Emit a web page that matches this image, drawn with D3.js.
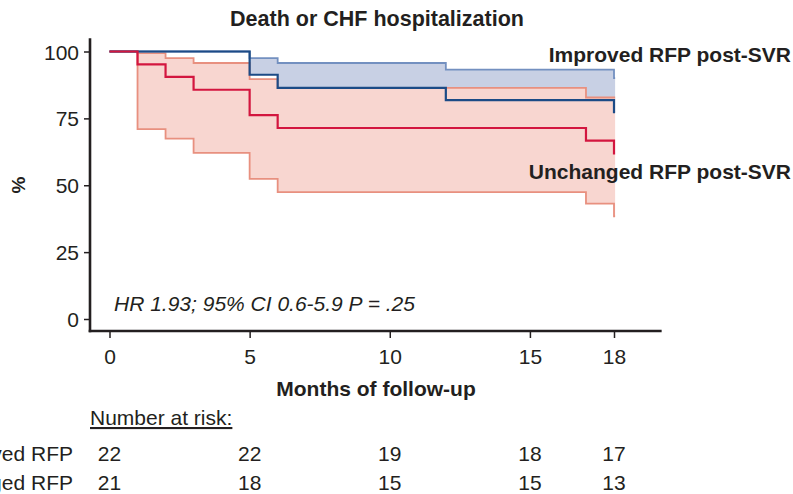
<!DOCTYPE html>
<html><head><meta charset="utf-8">
<script src="https://cdn.jsdelivr.net/npm/d3@7"></script>
<style>
html,body{margin:0;padding:0;background:#fff;}
svg{display:block;}
text{font-family:"Liberation Sans",Arial,Helvetica,sans-serif;}
</style></head>
<body><svg id="c" width="793" height="494"></svg>
<script>
// ---- data ----
const improvedTimes = [0, 5, 6, 12, 18];
const improvedSurv  = [100, 91.3, 86.4, 81.8, 77.3];
const improvedUpper = [100, 97.5, 95.7, 93.2, 90.1];

const unchangedTimes = [0, 1, 2, 3, 5, 6, 17, 18];
const unchangedSurv  = [100, 95.2, 90.5, 85.7, 76.2, 71.4, 66.7, 61.9];
const unchangedUpper = [100, 99.4, 97.5, 95.7, 89.7, 86.4, 82.8, 82.8];
const unchangedLower = [100, 71.0, 67.4, 62.1, 52.4, 47.4, 43.1, 38.4];

const xTicks = [0, 5, 10, 15, 18];
const yTicks = [0, 25, 50, 75, 100];
const riskTimes = [0, 5, 10, 15, 18];
const riskImproved = [22, 22, 19, 18, 17];
const riskUnchanged = [21, 18, 15, 15, 13];
const riskLabels = ["Improved RFP", "Unchanged RFP"];

const title = "Death or CHF hospitalization";
const xTitle = "Months of follow-up";
const yTitle = "%";
const seriesLabels = ["Improved RFP post-SVR", "Unchanged RFP post-SVR"];
const statText = "HR 1.93; 95% CI 0.6-5.9 P = .25";

// ---- layout ----
const svg = d3.select("#c");
const x = d3.scaleLinear().domain([0, 18]).range([109.5, 614]);
const y = d3.scaleLinear().domain([0, 100]).range([319, 51.5]);
const endExt = 0.04;
const fs = 21;

function rows(times, ...cols) {
  const r = times.map((t, i) => ({t, v: cols.map(c => c[i])}));
  const last = r[r.length - 1];
  r.push({t: last.t + endExt, v: last.v.slice()});
  return r;
}
const imp = rows(improvedTimes, improvedSurv, improvedUpper);
const unc = rows(unchangedTimes, unchangedSurv, unchangedUpper, unchangedLower);

const stepLine = k => d3.line().curve(d3.curveStepAfter).x(d => x(d.t)).y(d => y(d.v[k]));

// fills
svg.append("path").datum(imp)
  .attr("d", d3.area().curve(d3.curveStepAfter).x(d => x(d.t)).y0(d => y(d.v[0])).y1(d => y(d.v[1])))
  .attr("fill", "#c8d0e4");
svg.append("path").datum(unc)
  .attr("d", d3.area().curve(d3.curveStepAfter).x(d => x(d.t)).y0(d => y(d.v[2])).y1(d => y(d.v[1])))
  .attr("fill", "#f8d6d0");

// CI lines
svg.append("path").datum(unc).attr("d", stepLine(2)).attr("fill", "none").attr("stroke", "#e8907f").attr("stroke-width", 1.8);
svg.append("path").datum(unc).attr("d", stepLine(1)).attr("fill", "none").attr("stroke", "#e8907f").attr("stroke-width", 1.8);
svg.append("path").datum(imp).attr("d", stepLine(1)).attr("fill", "none").attr("stroke", "#7390c0").attr("stroke-width", 1.8);
// KM lines
svg.append("path").datum(imp).attr("d", stepLine(0)).attr("fill", "none").attr("stroke", "#1c4b86").attr("stroke-width", 2.2);
svg.append("path").datum(unc).attr("d", stepLine(0)).attr("fill", "none").attr("stroke", "#d3163f").attr("stroke-width", 2.2);

// axes
const axisColor = "#231f20";
const yAxis = svg.append("g").attr("transform", "translate(90,0)")
  .call(d3.axisLeft(y).tickValues(yTicks).tickSize(6).tickPadding(5).tickSizeOuter(0));
yAxis.select(".domain").remove();
yAxis.selectAll("line").attr("stroke", axisColor).attr("stroke-width", 1.5);
yAxis.selectAll("text").attr("font-size", fs).attr("fill", axisColor).attr("dy", "0.36em");

const xAxis = svg.append("g").attr("transform", "translate(0,331)")
  .call(d3.axisBottom(x).tickValues(xTicks).tickSize(7).tickPadding(11).tickSizeOuter(0));
xAxis.select(".domain").remove();
xAxis.selectAll("line").attr("stroke", axisColor).attr("stroke-width", 1.5);
xAxis.selectAll("text").attr("font-size", fs).attr("fill", axisColor);

svg.append("line").attr("x1", 90).attr("x2", 90).attr("y1", y(105)).attr("y2", 332.3)
  .attr("stroke", axisColor).attr("stroke-width", 2.6);
svg.append("line").attr("x1", 88.7).attr("x2", x(19.7)).attr("y1", 331).attr("y2", 331)
  .attr("stroke", axisColor).attr("stroke-width", 2.6);

// texts
svg.append("text").attr("x", 377).attr("y", 25.5).attr("text-anchor", "middle")
  .attr("font-size", 21.5).attr("font-weight", "bold").attr("fill", axisColor).text(title);
svg.append("text").attr("x", 376).attr("y", 396).attr("text-anchor", "middle")
  .attr("font-size", fs).attr("font-weight", "bold").attr("fill", axisColor).text(xTitle);
svg.append("text").attr("transform", "translate(25,185) rotate(-90)").attr("text-anchor", "middle")
  .attr("font-size", 19).attr("font-weight", "bold").attr("fill", axisColor).text(yTitle);
svg.append("text").attr("x", 791).attr("y", 62).attr("text-anchor", "end")
  .attr("font-size", fs).attr("font-weight", "bold").attr("fill", axisColor).text(seriesLabels[0]);
svg.append("text").attr("x", 791).attr("y", 179).attr("text-anchor", "end")
  .attr("font-size", fs).attr("font-weight", "bold").attr("fill", axisColor).text(seriesLabels[1]);
svg.append("text").attr("x", 114).attr("y", 310.5)
  .attr("font-size", fs).attr("font-style", "italic").attr("fill", axisColor).text(statText);

// number at risk
svg.append("text").attr("x", 90).attr("y", 425)
  .attr("font-size", fs).attr("fill", axisColor).attr("text-decoration", "underline").text("Number at risk:");
[riskImproved, riskUnchanged].forEach((arr, r) => {
  const yy = 461 + r * 29;
  svg.append("text").attr("x", 73).attr("y", yy).attr("text-anchor", "end")
    .attr("font-size", fs).attr("fill", axisColor).text(riskLabels[r]);
  svg.selectAll(null).data(arr).enter().append("text")
    .attr("x", (d, i) => x(riskTimes[i])).attr("y", yy).attr("text-anchor", "middle")
    .attr("font-size", fs).attr("fill", axisColor).text(d => d);
});
</script></body></html>
